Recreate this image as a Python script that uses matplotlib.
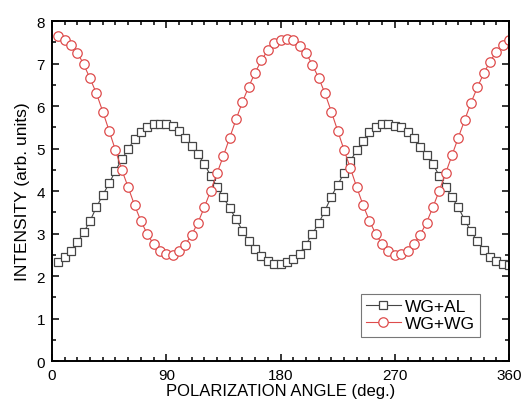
import numpy as np
import matplotlib
matplotlib.use('Agg')
import matplotlib.pyplot as plt
from matplotlib.ticker import MultipleLocator


# data (angle in deg., intensity in arb. units)
angle = list(range(5, 361, 5))

wg_al = [2.33, 2.44, 2.58, 2.79, 3.03, 3.30, 3.62, 3.91, 4.18, 4.48,
         4.75, 4.99, 5.22, 5.40, 5.51, 5.57, 5.58, 5.57, 5.54, 5.42,
         5.26, 5.07, 4.87, 4.64, 4.36, 4.10, 3.85, 3.60, 3.34, 3.07,
         2.83, 2.64, 2.48, 2.35, 2.28, 2.28, 2.32, 2.40, 2.53, 2.74,
         2.99, 3.24, 3.54, 3.87, 4.15, 4.42, 4.71, 4.96, 5.18, 5.38,
         5.50, 5.58, 5.58, 5.53, 5.50, 5.40, 5.25, 5.04, 4.85, 4.64,
         4.36, 4.10, 3.85, 3.62, 3.32, 3.05, 2.82, 2.61, 2.44, 2.35,
         2.28, 2.25]

wg_wg = [7.64, 7.55, 7.45, 7.26, 6.98, 6.65, 6.30, 5.87, 5.42, 4.96,
         4.50, 4.09, 3.67, 3.30, 2.99, 2.75, 2.60, 2.51, 2.49, 2.60,
         2.74, 2.97, 3.26, 3.62, 4.01, 4.42, 4.83, 5.26, 5.69, 6.10,
         6.46, 6.79, 7.08, 7.32, 7.48, 7.56, 7.59, 7.55, 7.42, 7.26,
         6.97, 6.67, 6.30, 5.87, 5.42, 4.97, 4.54, 4.09, 3.67, 3.30,
         2.99, 2.75, 2.58, 2.50, 2.51, 2.58, 2.75, 2.97, 3.26, 3.62,
         4.01, 4.42, 4.84, 5.26, 5.67, 6.08, 6.44, 6.77, 7.05, 7.28,
         7.45, 7.55]

xticks = [0, 90, 180, 270, 360]
yticks = [0, 1, 2, 3, 4, 5, 6, 7, 8]

plt.rcParams['font.family'] = ['Liberation Sans', 'DejaVu Sans']

fig = plt.figure(figsize=(5.23, 4.10), dpi=100)
ax = fig.add_axes([0.0994, 0.117, 0.874, 0.829])

ax.plot(angle, wg_al, color='#454545', lw=0.8, marker='s', ms=6.2,
        mfc='white', mec='#454545', mew=0.9, label='WG+AL')
ax.plot(angle, wg_wg, color='#de4c4c', lw=0.8, marker='o', ms=6.8,
        mfc='white', mec='#de4c4c', mew=0.9, label='WG+WG')

ax.set_xlim(0, 360)
ax.set_ylim(0, 8)
ax.set_xticks(xticks)
ax.set_yticks(yticks)
ax.xaxis.set_minor_locator(MultipleLocator(10))
ax.yaxis.set_minor_locator(MultipleLocator(0.5))
ax.tick_params(which='both', direction='in', top=True, right=True,
               labelsize=11, width=1.1, pad=5)
ax.tick_params(which='major', length=5)
ax.tick_params(which='minor', length=3)
for s in ax.spines.values():
    s.set_linewidth(1.4)

ax.set_xlabel('POLARIZATION ANGLE (deg.)', fontsize=12, labelpad=1)
ax.set_ylabel('INTENSITY (arb. units)', fontsize=12.5, labelpad=5)

leg = ax.legend(loc='lower right', bbox_to_anchor=(0.937, 0.072),
                fontsize=12.5, frameon=True, fancybox=False,
                handlelength=2.0, handletextpad=0.25, borderpad=0.3,
                labelspacing=0.1, borderaxespad=0)
leg.get_frame().set_edgecolor('#555555')
leg.get_frame().set_linewidth(0.8)

fig.savefig('out.png', dpi=100)
